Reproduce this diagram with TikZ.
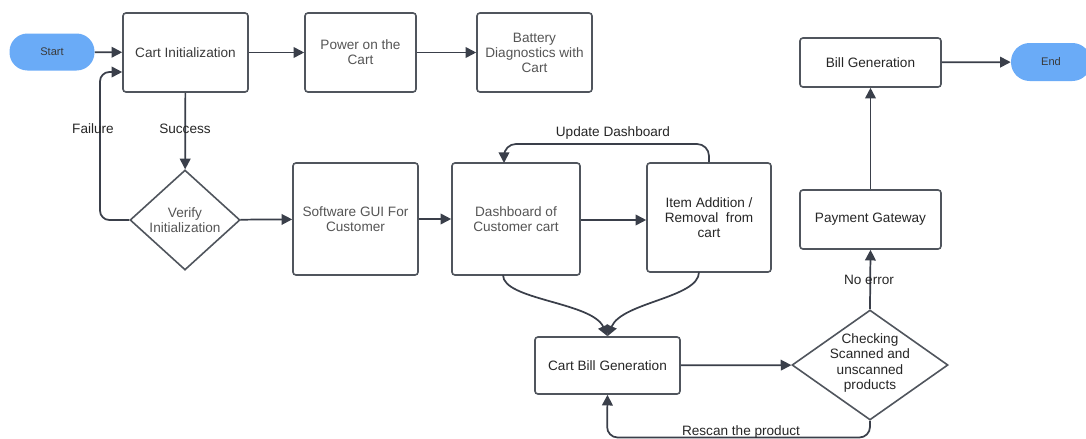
\documentclass[tikz,border=0pt]{standalone}
\usepackage{fontspec}
\setmainfont{Liberation Sans}
\usetikzlibrary{shapes.geometric,arrows.meta,calc}
\definecolor{linec}{HTML}{3A3F4A}
\definecolor{boxc}{HTML}{50555D}
\definecolor{txtdark}{HTML}{262626}
\definecolor{txtmid}{HTML}{3A3A3A}
\definecolor{txtgray}{HTML}{555555}
\definecolor{pillblue}{HTML}{6AABF7}
\begin{document}
\begin{tikzpicture}[x=0.75pt,y=-0.75pt,
  box/.style={draw=boxc, line width=1.2pt, rounded corners=2.2pt, fill=white,
    align=center, font=\fontsize{10.2}{11.3}\selectfont, inner sep=1pt},
  pill/.style={fill=pillblue, rounded corners=13.5pt, align=center,
    font=\fontsize{8.3}{10}\selectfont, text=txtmid, inner sep=0pt},
  dec/.style={draw=boxc, line width=1.2pt, diamond, fill=white, inner sep=0pt},
  dectext/.style={align=center, font=\fontsize{10.2}{11.3}\selectfont, inner sep=0pt},
  lbl/.style={font=\fontsize{10.2}{11.3}\selectfont, text=txtdark, inner sep=0pt},
  conn/.style={draw=linec, line width=1.3pt, -{Triangle[length=8pt,width=8pt]}},
  plain/.style={draw=linec, line width=1.3pt}
]
\useasboundingbox (0,0) rectangle (1086,439);

% nodes
\node[pill, minimum width=85*0.75pt, minimum height=37*0.75pt] (start) at (52,52) {Start};
\node[box, text=txtmid, minimum width=125*0.75pt, minimum height=79*0.75pt] (init) at (185.5,52.5) {Cart Initialization};
\node[box, text=txtgray, minimum width=111*0.75pt, minimum height=79*0.75pt] (power) at (360.5,52.5) {Power on the\\Cart};
\node[box, text=txtgray, minimum width=115*0.75pt, minimum height=79*0.75pt] (batt) at (534.5,52.5) {Battery\\Diagnostics with\\Cart};

\node[dec, minimum width=110*0.75pt, minimum height=100*0.75pt] (verify) at (185,220) {};
\node[dectext, text=txtgray] (verifyt) at (185,220) {Verify\\Initialization};

\node[box, text=txtgray, minimum width=125*0.75pt, minimum height=112*0.75pt] (gui) at (355.5,219) {Software GUI For\\Customer};
\node[box, text=txtgray, minimum width=128*0.75pt, minimum height=112*0.75pt] (dash) at (516,219) {Dashboard of\\Customer cart};
\node[box, text=txtdark, minimum width=124*0.75pt, minimum height=109*0.75pt] (item) at (709,217.5) {Item Addition /\\Removal~~from\\cart};

\node[box, text=txtdark, minimum width=145*0.75pt, minimum height=57*0.75pt] (cbill) at (607.5,365.5) {Cart Bill Generation};
\node[dec, minimum width=156*0.75pt, minimum height=110*0.75pt] (check) at (870,365) {};
\node[dectext, text=txtdark] (checkt) at (870,363) {Checking\\Scanned and\\unscanned\\products};

\node[box, text=txtdark, minimum width=141*0.75pt, minimum height=59*0.75pt] (pay) at (870.5,219.5) {Payment Gateway};
\node[box, text=txtdark, minimum width=141*0.75pt, minimum height=49*0.75pt] (bill) at (870.5,62.5) {Bill Generation};
\node[pill, minimum width=80*0.75pt, minimum height=38*0.75pt, rounded corners=14pt] (endn) at (1051,62) {End};

% connectors
\draw[conn] (start) -- (init);
\draw[conn] (init) -- (power);
\draw[conn] (power) -- (batt);
\draw[conn] (init) -- (verify);
\node[lbl] (succ) at (185,129) {Success};
\draw[conn, rounded corners=7pt] (verify.west) -| (100,72) -- (init.west |- 0,72);
\node[lbl] (fail) at (93,129) {Failure};
\draw[conn] (verify) -- (gui);
\draw[conn] (gui.east) -- (dash.west |- gui.east);
\draw[conn] (dash.east |- 0,220) -- (item.west |- 0,220);
\draw[conn, rounded corners=9pt] (item.north) -- (709,144) -- (504,144) -- (504,163);
\node[lbl] (upd) at (613,133) {Update Dashboard};
\coordinate (dl) at (503,275);
\coordinate (il) at (699,272);
\draw[conn] (dl) .. controls (503,300) and (592,302) .. (cbill.north);
\draw[conn] (il) .. controls (699,298) and (622,302) .. (cbill.north);
\draw[conn] (cbill) -- (check);
\draw[conn, rounded corners=8pt] (check.south) -- (870,437.5) -- (607,437.5) -- (cbill.south);
\node[lbl] (resc) at (741,432) {Rescan the product};
\draw[conn] (check.north) -- (pay.south);
\node[lbl] (noerr) at (869,280) {No error};
\draw[conn] (pay) -- (bill);
\draw[conn] (bill) -- (endn);
\end{tikzpicture}
\end{document}
